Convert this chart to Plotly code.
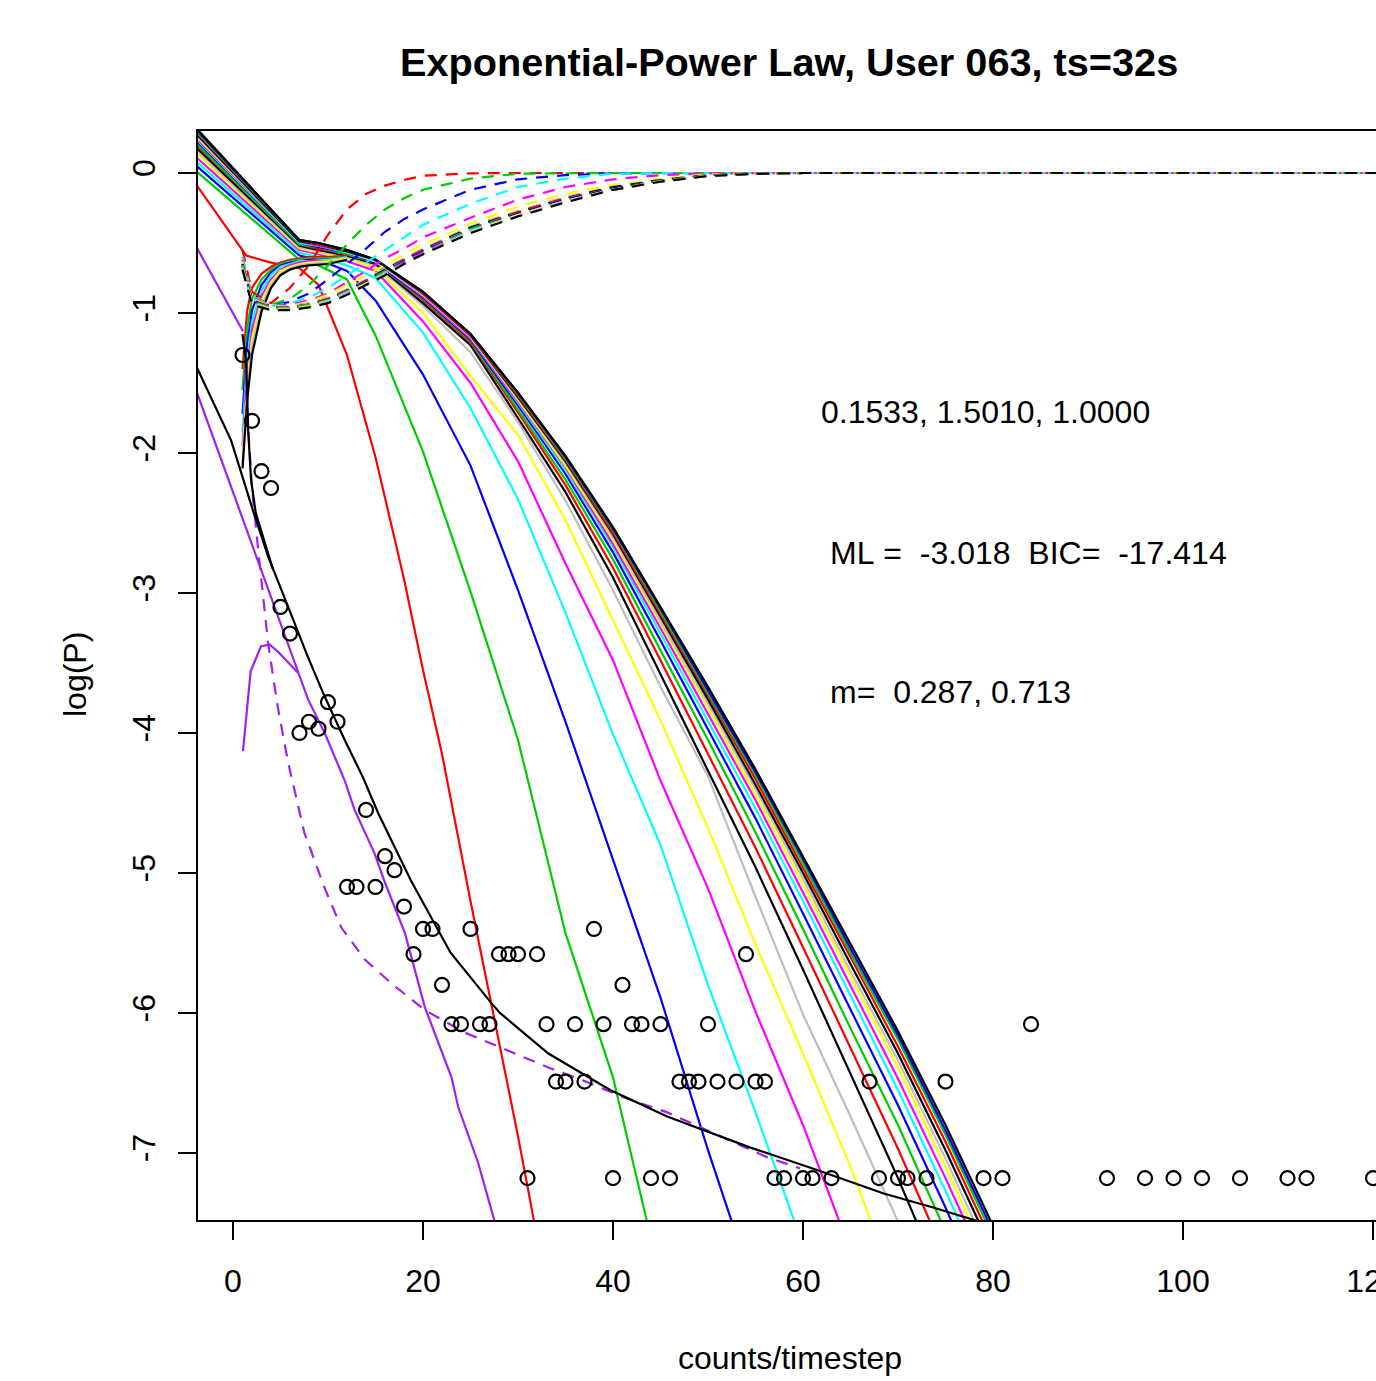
import plotly.graph_objects as go

# ---------------- data ----------------
# observed points: counts/timestep vs log(P)
count_x = [1, 2, 3, 4, 5, 6, 7, 8, 9, 10, 11, 12, 13, 14, 15, 16, 17, 18, 19, 20,
           21, 22, 23, 24, 25, 26, 27, 28, 29, 30, 31, 32, 33, 34, 35, 36, 37, 38, 39, 40,
           41, 42, 43, 44, 45, 46, 47, 48, 49, 50, 51, 53, 54, 55, 56, 57, 58, 60, 61, 63,
           67, 68, 70, 71, 73, 75, 79, 81, 84, 92, 96, 99, 102, 106, 111, 113, 120]
count_logp = [-1.30, -1.77, -2.13, -2.25, -3.10, -3.29, -4.00, -3.92, -3.97, -3.78, -3.92, -5.10, -5.10, -4.55, -5.10, -4.88, -4.98, -5.24, -5.58, -5.40,
              -5.40, -5.80, -6.08, -6.08, -5.40, -6.08, -6.08, -5.58, -5.58, -5.58, -7.18, -5.58, -6.08, -6.49, -6.49, -6.08, -6.49, -5.40, -6.08, -7.18,
              -5.80, -6.08, -6.08, -7.18, -6.08, -7.18, -6.49, -6.49, -6.49, -6.08, -6.49, -6.49, -5.58, -6.49, -6.49, -7.18, -7.18, -7.18, -7.18, -7.18,
              -6.49, -7.18, -7.18, -7.18, -7.18, -6.49, -7.18, -7.18, -6.08, -7.18, -7.18, -7.18, -7.18, -7.18, -7.18, -7.18, -7.18]

# fitted curve (black)
fit_x = [-4, -0.2, 2.1, 3.7, 5.4, 7.9, 9.65, 11.76, 13.7, 15.26, 18.7, 22.9, 27.2, 28.1, 33.2, 39.7, 45.7, 54.4, 61.4, 68.5, 73.7, 77, 80]
fit_y = [-1.36, -1.91, -2.41, -2.74, -3.03, -3.46, -3.74, -4.05, -4.32, -4.57, -5.05, -5.57, -5.93, -6.0, -6.29, -6.55, -6.74, -6.96, -7.12, -7.29, -7.39, -7.46, -7.52]
fit_head_x = [1, 1.4, 1.6, 1.9, 2.4, 3.2, 4.2]
fit_head_y = [-1.15, -1.36, -1.84, -2.19, -2.43, -2.6, -2.83]

# purple component curves
pur_a_x = [-4, 1.05]
pur_a_y = [-0.51, -1.13]
pur_b_x = [-4, 2.6, 7.9, 9.65, 11.76, 12.8, 14.9, 16, 18.1, 20.2, 23, 23.7, 25.8, 27.5, 29]
pur_b_y = [-1.53, -2.76, -3.76, -4.0, -4.34, -4.55, -4.86, -5.07, -5.43, -5.96, -6.46, -6.67, -7.07, -7.48, -7.8]
pur_hump_x = [1.05, 1.86, 2.95, 3.86, 4.74, 6.84]
pur_hump_y = [-4.13, -3.56, -3.38, -3.37, -3.42, -3.57]
pur_dash_x = [1.2, 1.6, 2, 2.8, 3.7, 4.7, 5.8, 7.5, 9.6, 11.4, 13.9, 16.7, 20.2, 24.4, 29.6, 33.2, 36.8, 41, 45.7, 49.9, 56.2, 59.7]
pur_dash_y = [-1.4, -1.84, -2.25, -2.79, -3.36, -3.81, -4.21, -4.71, -5.1, -5.39, -5.62, -5.79, -5.98, -6.14, -6.29, -6.39, -6.48, -6.6, -6.71, -6.84, -7.03, -7.11]

# first (red) declining curve
red1_x = [-4, 1.4, 4, 7, 9, 12, 15, 18, 20, 22, 25, 28, 30, 32, 35]
red1_y = [-0.07, -0.59, -0.64, -0.68, -0.8, -1.3, -2.03, -2.9, -3.55, -4.15, -5.2, -6.2, -6.88, -7.6, -8.6]

# declining solid curves, common x grid
grid_b = [-4, 7, 9, 12, 15, 20, 25, 30, 35, 40, 45, 50, 55, 60, 65, 70, 75, 80, 85]
dec_green1 = [0.02, -0.62, -0.66, -0.76, -1.16, -1.99, -2.99, -4.05, -5.43, -6.46, -7.9, None, None, None, None, None, None, None, None]
dec_blue1 = [0.06, -0.59, -0.62, -0.7, -0.91, -1.44, -2.09, -2.98, -3.92, -4.91, -5.89, -6.98, -8.0, None, None, None, None, None, None]
dec_cyan1 = [0.09, -0.57, -0.6, -0.66, -0.75, -1.14, -1.68, -2.33, -3.14, -4.01, -4.8, -5.8, -6.71, -7.66, None, None, None, None, None]
dec_magenta1 = [0.12, -0.55, -0.58, -0.63, -0.7, -1.06, -1.5, -2.06, -2.79, -3.48, -4.34, -5.11, -5.99, -6.8, -7.7, None, None, None, None]
dec_yellow1 = [0.15, -0.54, -0.57, -0.61, -0.68, -1.0, -1.45, -1.87, -2.48, -3.19, -3.91, -4.68, -5.51, -6.29, -7.1, -8.0, None, None, None]
dec_gray1 = [0.17, -0.53, -0.56, -0.6, -0.66, -0.95, -1.28, -1.78, -2.34, -2.98, -3.67, -4.31, -5.17, -6.01, -6.74, -7.49, -8.3, None, None]
dec_black1 = [0.19, -0.52, -0.55, -0.59, -0.65, -0.93, -1.23, -1.75, -2.28, -2.89, -3.58, -4.27, -4.96, -5.69, -6.44, -7.18, -7.98, None, None]
dec_red2 = [0.21, -0.51, -0.54, -0.58, -0.64, -0.91, -1.21, -1.71, -2.23, -2.82, -3.48, -4.15, -4.82, -5.53, -6.25, -6.97, -7.74, -8.54, None]
dec_green2 = [0.22, -0.51, -0.53, -0.58, -0.64, -0.90, -1.20, -1.69, -2.19, -2.76, -3.41, -4.05, -4.71, -5.40, -6.11, -6.80, -7.56, -8.34, None]
dec_blue2 = [0.24, -0.50, -0.53, -0.57, -0.64, -0.89, -1.19, -1.66, -2.15, -2.71, -3.34, -3.97, -4.61, -5.29, -5.98, -6.66, -7.39, -8.16, None]
dec_cyan2 = [0.25, -0.50, -0.52, -0.57, -0.63, -0.88, -1.18, -1.64, -2.12, -2.67, -3.29, -3.91, -4.54, -5.20, -5.88, -6.55, -7.27, -8.03, None]
dec_magenta2 = [0.26, -0.49, -0.52, -0.56, -0.63, -0.88, -1.18, -1.63, -2.10, -2.65, -3.25, -3.86, -4.48, -5.14, -5.81, -6.47, -7.18, -7.93, None]
dec_yellow2 = [0.27, -0.49, -0.51, -0.56, -0.63, -0.87, -1.17, -1.62, -2.09, -2.62, -3.22, -3.82, -4.44, -5.08, -5.74, -6.39, -7.10, -7.84, None]
dec_gray2 = [0.28, -0.49, -0.51, -0.56, -0.63, -0.87, -1.17, -1.61, -2.07, -2.60, -3.20, -3.79, -4.40, -5.04, -5.70, -6.34, -7.04, -7.78, None]
dec_black2 = [0.29, -0.49, -0.51, -0.56, -0.62, -0.86, -1.16, -1.60, -2.06, -2.58, -3.17, -3.76, -4.37, -5.00, -5.65, -6.29, -6.98, -7.71, -8.50]
dec_red3 = [0.30, -0.48, -0.51, -0.55, -0.62, -0.86, -1.16, -1.59, -2.05, -2.57, -3.15, -3.73, -4.33, -4.96, -5.60, -6.24, -6.92, -7.65, -8.43]
dec_green3 = [0.31, -0.48, -0.50, -0.55, -0.62, -0.85, -1.15, -1.58, -2.04, -2.55, -3.13, -3.71, -4.30, -4.93, -5.57, -6.19, -6.87, -7.60, -8.38]
dec_blue3 = [0.32, -0.48, -0.50, -0.55, -0.62, -0.85, -1.15, -1.57, -2.03, -2.54, -3.11, -3.69, -4.28, -4.90, -5.54, -6.16, -6.84, -7.56, -8.34]
dec_black3 = [0.33, -0.48, -0.50, -0.55, -0.62, -0.85, -1.15, -1.57, -2.02, -2.53, -3.10, -3.67, -4.26, -4.88, -5.51, -6.13, -6.80, -7.52, -8.30]

# rising solid curves near the origin
grid_r = [1, 1.5, 2, 3, 4, 5, 6, 7, 8, 10, 12]
ris_red = [-1.40, -0.98, -0.82, -0.72, -0.67, -0.64, -0.62, -0.61, -0.60, -0.60, -0.59]
ris_green = [-1.55, -1.10, -0.90, -0.76, -0.69, -0.65, -0.63, -0.62, -0.61, -0.61, -0.60]
ris_blue = [-1.72, -1.22, -0.98, -0.80, -0.71, -0.66, -0.64, -0.63, -0.62, -0.62, -0.60]
ris_cyan = [-1.85, -1.33, -1.06, -0.84, -0.73, -0.67, -0.65, -0.63, -0.63, -0.62, -0.60]
ris_magenta = [-1.95, -1.42, -1.12, -0.88, -0.76, -0.69, -0.66, -0.64, -0.63, -0.63, -0.61]
ris_yellow = [-2.02, -1.50, -1.18, -0.91, -0.78, -0.70, -0.67, -0.65, -0.64, -0.63, -0.61]
ris_gray = [-2.07, -1.55, -1.24, -0.95, -0.80, -0.72, -0.68, -0.66, -0.65, -0.64, -0.62]
ris_black = [-2.11, -1.62, -1.30, -0.99, -0.82, -0.73, -0.69, -0.67, -0.66, -0.65, -0.62]

# dashed rising-to-zero curves
grid_d = [1, 2, 4, 6, 8, 10, 12, 14, 16, 18, 20, 25, 30, 35, 40, 45, 50, 55, 60, 125]
dsh_red = [-0.55, -0.85, -0.93, -0.82, -0.66, -0.44, -0.26, -0.15, -0.09, -0.05, -0.02, -0.002, 0, 0, 0, 0, 0, 0, 0, 0]
dsh_green = [-0.60, -0.88, -0.94, -0.90, -0.80, -0.66, -0.51, -0.37, -0.26, -0.18, -0.12, -0.04, -0.005, 0, 0, 0, 0, 0, 0, 0]
dsh_blue = [-0.65, -0.90, -0.95, -0.92, -0.86, -0.76, -0.65, -0.54, -0.42, -0.33, -0.26, -0.12, -0.045, -0.015, -0.003, 0, 0, 0, 0, 0]
dsh_cyan = [-0.60, -0.88, -0.95, -0.93, -0.89, -0.82, -0.73, -0.64, -0.55, -0.46, -0.37, -0.22, -0.10, -0.04, -0.005, 0, 0, 0, 0, 0]
dsh_magenta = [-0.62, -0.89, -0.95, -0.94, -0.91, -0.86, -0.78, -0.70, -0.61, -0.54, -0.46, -0.32, -0.19, -0.10, -0.045, -0.015, -0.003, 0, 0, 0]
dsh_yellow = [-0.63, -0.90, -0.95, -0.95, -0.92, -0.87, -0.80, -0.73, -0.66, -0.58, -0.51, -0.36, -0.24, -0.15, -0.085, -0.04, -0.01, -0.002, 0, 0]
dsh_gray1 = [-0.64, -0.90, -0.95, -0.95, -0.93, -0.89, -0.83, -0.76, -0.68, -0.61, -0.54, -0.38, -0.27, -0.17, -0.10, -0.05, -0.015, -0.003, 0, 0]
dsh_black1 = [-0.65, -0.91, -0.96, -0.96, -0.94, -0.90, -0.84, -0.77, -0.69, -0.62, -0.55, -0.39, -0.28, -0.18, -0.10, -0.05, -0.016, -0.003, 0, 0]
dsh_red2 = [-0.66, -0.91, -0.96, -0.96, -0.94, -0.90, -0.84, -0.77, -0.70, -0.62, -0.55, -0.40, -0.28, -0.18, -0.11, -0.055, -0.017, -0.004, 0, 0]
dsh_green2 = [-0.66, -0.92, -0.96, -0.96, -0.94, -0.91, -0.85, -0.78, -0.70, -0.63, -0.56, -0.40, -0.29, -0.19, -0.11, -0.056, -0.018, -0.004, 0, 0]
dsh_blue2 = [-0.67, -0.92, -0.97, -0.97, -0.95, -0.91, -0.85, -0.78, -0.71, -0.63, -0.56, -0.41, -0.29, -0.19, -0.11, -0.057, -0.019, -0.004, 0, 0]
dsh_cyan2 = [-0.67, -0.92, -0.97, -0.97, -0.95, -0.91, -0.85, -0.79, -0.71, -0.64, -0.57, -0.41, -0.30, -0.20, -0.12, -0.058, -0.02, -0.005, 0, 0]
dsh_magenta2 = [-0.68, -0.93, -0.97, -0.97, -0.95, -0.92, -0.86, -0.79, -0.72, -0.64, -0.57, -0.42, -0.30, -0.20, -0.12, -0.06, -0.02, -0.005, 0, 0]
dsh_yellow2 = [-0.68, -0.93, -0.97, -0.97, -0.95, -0.92, -0.86, -0.79, -0.72, -0.65, -0.58, -0.42, -0.30, -0.20, -0.12, -0.06, -0.021, -0.005, 0, 0]
dsh_gray2 = [-0.69, -0.93, -0.98, -0.97, -0.96, -0.92, -0.86, -0.80, -0.72, -0.65, -0.58, -0.42, -0.31, -0.20, -0.12, -0.061, -0.021, -0.005, 0, 0]
dsh_black2 = [-0.69, -0.94, -0.98, -0.98, -0.96, -0.93, -0.87, -0.80, -0.73, -0.65, -0.58, -0.43, -0.31, -0.21, -0.12, -0.062, -0.022, -0.006, 0, 0]

x_ticks = [0, 20, 40, 60, 80, 100, 120]
y_ticks = [0, -1, -2, -3, -4, -5, -6, -7]
y_tick_text = ["0", "-1", "-2", "-3", "-4", "-5", "-6", "-7"]

title_text = "Exponential-Power Law, User 063, ts=32s"
x_label = "counts/timestep"
y_label = "log(P)"
note_params = "0.1533, 1.5010, 1.0000"
note_ml = "ML =  -3.018  BIC=  -17.414"
note_m = "m=  0.287, 0.713"

# ---------------- styles ----------------
BLACK, RED, GREEN, BLUE = "#000000", "#FF0000", "#00CD00", "#0000FF"
CYAN, MAGENTA, YELLOW, GRAY = "#00FFFF", "#FF00FF", "#FFFF00", "#BEBEBE"
PURPLE = "#A020F0"
FONT = "Liberation Sans, Arial, Helvetica, sans-serif"
LW = 2.2
DASH = "12px,9px"

fig = go.Figure()


def add_line(x, y, color, dash=None, width=LW):
    fig.add_trace(go.Scatter(x=x, y=y, mode="lines",
                             line=dict(color=color, width=width, dash=dash),
                             hoverinfo="skip", showlegend=False))


# declining solid curves
add_line(red1_x, red1_y, RED)
declining = [(dec_green1, GREEN), (dec_blue1, BLUE), (dec_cyan1, CYAN), (dec_magenta1, MAGENTA),
             (dec_yellow1, YELLOW), (dec_gray1, GRAY), (dec_black1, BLACK),
             (dec_red2, RED), (dec_green2, GREEN), (dec_blue2, BLUE), (dec_cyan2, CYAN),
             (dec_magenta2, MAGENTA), (dec_yellow2, YELLOW), (dec_gray2, GRAY), (dec_black2, BLACK),
             (dec_red3, RED), (dec_green3, GREEN), (dec_blue3, BLUE), (dec_black3, BLACK)]
for ys, c in declining:
    add_line(grid_b, ys, c)

# rising solid curves
rising = [(ris_red, RED), (ris_green, GREEN), (ris_blue, BLUE), (ris_cyan, CYAN),
          (ris_magenta, MAGENTA), (ris_yellow, YELLOW), (ris_gray, GRAY), (ris_black, BLACK)]
for ys, c in rising:
    add_line(grid_r, ys, c)

# dashed curves
dashed = [(dsh_red, RED), (dsh_green, GREEN), (dsh_blue, BLUE), (dsh_cyan, CYAN),
          (dsh_magenta, MAGENTA), (dsh_yellow, YELLOW), (dsh_gray1, GRAY), (dsh_black1, BLACK),
          (dsh_red2, RED), (dsh_green2, GREEN), (dsh_blue2, BLUE), (dsh_cyan2, CYAN),
          (dsh_magenta2, MAGENTA), (dsh_yellow2, YELLOW), (dsh_gray2, GRAY), (dsh_black2, BLACK)]
for ys, c in dashed:
    add_line(grid_d, ys, c, dash=DASH)

# purple components
add_line(pur_a_x, pur_a_y, PURPLE)
add_line(pur_b_x, pur_b_y, PURPLE)
add_line(pur_hump_x, pur_hump_y, PURPLE)
add_line(pur_dash_x, pur_dash_y, PURPLE, dash=DASH)

# fitted black curve
add_line(fit_x, fit_y, BLACK)
add_line(fit_head_x, fit_head_y, BLACK)

# observed points
fig.add_trace(go.Scatter(x=count_x, y=count_logp, mode="markers",
                         marker=dict(symbol="circle-open", size=14, color=BLACK,
                                     line=dict(color=BLACK, width=2.2)),
                         hoverinfo="skip", showlegend=False))

# ---------------- layout ----------------
W, H = 1376, 1381
L, T, B = 198, 131, 161
x_lo = -3.684
x_hi = x_lo + (W - L) / 9.5
y_lo, y_hi = -7.479, 0.30

fig.update_layout(
    width=W, height=H,
    margin=dict(l=L, r=0, t=T, b=B, pad=0, autoexpand=False),
    paper_bgcolor="white", plot_bgcolor="white",
    font=dict(family=FONT, size=32, color="black"),
    xaxis=dict(range=[x_lo, x_hi], tickvals=x_ticks, ticks="outside", ticklen=18,
               tickwidth=2, tickcolor="black", showgrid=False, zeroline=False,
               showline=True, linewidth=2, linecolor="black", mirror=True,
               tickfont=dict(size=32, family=FONT), ticklabelstandoff=14,
               ticklabeloverflow="allow", automargin=False),
    yaxis=dict(range=[y_lo, y_hi], tickvals=y_ticks, ticktext=y_tick_text, ticks="outside",
               ticklen=18, tickwidth=2, tickcolor="black", showgrid=False, zeroline=False,
               showline=True, linewidth=2, linecolor="black", tickangle=-90,
               tickfont=dict(size=32, family=FONT), ticklabelstandoff=10, automargin=False),
)

plot_w = W - L
plot_h = H - T - B


def px_x(p):
    return (p - L) / plot_w


def px_y(p):
    return (H - B - p) / plot_h


annotations = [
    dict(text="<b>" + title_text + "</b>", xref="paper", yref="paper", x=px_x(789), y=px_y(62),
         xanchor="center", yanchor="middle", showarrow=False, font=dict(size=39.7, family=FONT)),
    dict(text=x_label, xref="paper", yref="paper", x=px_x(790), y=px_y(1358),
         xanchor="center", yanchor="middle", showarrow=False, font=dict(size=32, family=FONT)),
    dict(text=y_label, xref="paper", yref="paper", x=px_x(75), y=px_y(675), textangle=-90,
         xanchor="center", yanchor="middle", showarrow=False, font=dict(size=32, family=FONT)),
    dict(text=note_params.replace(" ", "\u00a0"), xref="x", yref="y", x=61.79, y=-1.707,
         xanchor="left", yanchor="middle", showarrow=False, borderpad=0, font=dict(size=32, family=FONT)),
    dict(text=note_ml.replace(" ", "\u00a0"), xref="x", yref="y", x=62.74, y=-2.714,
         xanchor="left", yanchor="middle", showarrow=False, borderpad=0, font=dict(size=32, family=FONT)),
    dict(text=note_m.replace(" ", "\u00a0"), xref="x", yref="y", x=62.74, y=-3.707,
         xanchor="left", yanchor="middle", showarrow=False, borderpad=0, font=dict(size=32, family=FONT)),
]
fig.update_layout(annotations=annotations)

fig.write_html("out.html")
